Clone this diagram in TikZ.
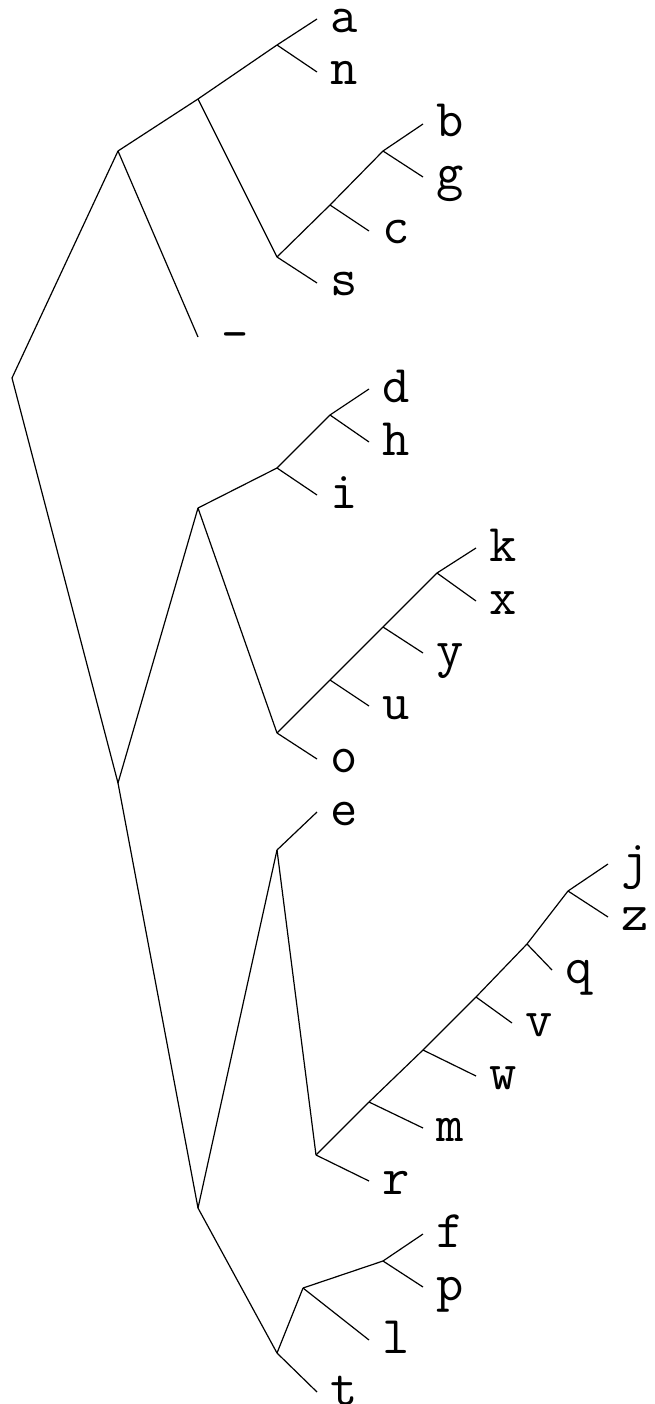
\documentclass[tikz,border=0pt]{standalone}
\usepackage{amsmath, amssymb}

\tikzset{
  leaflabel/.style={anchor=base west, inner sep=0pt, font=\fontsize{53}{60}\selectfont\ttfamily},
  edge/.style={line width=1.2pt}
}

\begin{document}
\begin{tikzpicture}[x=1pt,y=-1pt]
\useasboundingbox (0,0) rectangle (655,1404);
% Inner nodes of the code tree
\coordinate (rt) at (12,378);
\coordinate (n0) at (118,151);
\coordinate (n00) at (198,99);
\coordinate (n000) at (277,45);
\coordinate (n001) at (277,257);
\coordinate (n0010) at (330,205);
\coordinate (n00100) at (383,151);
\coordinate (n1) at (118,783);
\coordinate (n10) at (198,508);
\coordinate (n100) at (277,468);
\coordinate (n1000) at (330,415);
\coordinate (n101) at (277,733);
\coordinate (n1010) at (330,680);
\coordinate (n10100) at (383,627);
\coordinate (n101000) at (437,573);
\coordinate (n11) at (198,1208);
\coordinate (n110) at (277,850);
\coordinate (n1101) at (316,1155);
\coordinate (n11010) at (369,1102);
\coordinate (n110100) at (423,1050);
\coordinate (n1101000) at (476,997);
\coordinate (n11010000) at (527,944);
\coordinate (n110100000) at (568,891);
\coordinate (n111) at (277,1353);
\coordinate (n1110) at (303,1288);
\coordinate (n11100) at (383,1261);

% Leaves: end of the branch, then the letter
\coordinate (a-end) at (317,19);   \node[leaflabel] (a) at (330,33) {a};
\coordinate (n-end) at (317,72);   \node[leaflabel] (n) at (330,85) {n};
\coordinate (b-end) at (423,124);  \node[leaflabel] (b) at (436,137) {b};
\coordinate (g-end) at (423,177);  \node[leaflabel] (g) at (436,190) {g};
\coordinate (c-end) at (369,231);  \node[leaflabel] (c) at (382,244) {c};
\coordinate (s-end) at (317,283);  \node[leaflabel] (s) at (330,296) {s};
\coordinate (sp-end) at (198,337); \node[leaflabel, anchor=center] (sp) at (235,331) {\_};
\coordinate (d-end) at (369,389);  \node[leaflabel] (d) at (382,402) {d};
\coordinate (h-end) at (369,442);  \node[leaflabel] (h) at (382,455) {h};
\coordinate (i-end) at (317,495);  \node[leaflabel] (i) at (330,508) {i};
\coordinate (k-end) at (476,548);  \node[leaflabel] (k) at (489,561) {k};
\coordinate (x-end) at (476,601);  \node[leaflabel] (x) at (489,614) {x};
\coordinate (y-end) at (423,653);  \node[leaflabel] (y) at (436,666) {y};
\coordinate (u-end) at (369,706);  \node[leaflabel] (u) at (382,719) {u};
\coordinate (o-end) at (317,759);  \node[leaflabel] (o) at (330,772) {o};
\coordinate (e-end) at (317,812);  \node[leaflabel] (e) at (330,825) {e};
\coordinate (j-end) at (608,864);  \node[leaflabel] (j) at (621,877) {j};
\coordinate (z-end) at (608,917);  \node[leaflabel] (z) at (621,930) {z};
\coordinate (q-end) at (552,970);  \node[leaflabel] (q) at (565,983) {q};
\coordinate (v-end) at (512,1023); \node[leaflabel] (v) at (525,1036) {v};
\coordinate (w-end) at (476,1076); \node[leaflabel] (w) at (489,1089) {w};
\coordinate (m-end) at (423,1128); \node[leaflabel] (m) at (436,1141) {m};
\coordinate (r-end) at (369,1181); \node[leaflabel] (r) at (382,1194) {r};
\coordinate (f-end) at (423,1234); \node[leaflabel] (f) at (436,1247) {f};
\coordinate (p-end) at (423,1287); \node[leaflabel] (p) at (436,1300) {p};
\coordinate (l-end) at (369,1340); \node[leaflabel] (l) at (382,1353) {l};
\coordinate (t-end) at (317,1392); \node[leaflabel] (t) at (330,1405) {t};

% Branches
\draw[edge] (rt) -- (n0);
\draw[edge] (rt) -- (n1);
\draw[edge] (n0) -- (n00);
\draw[edge] (n0) -- (sp-end);
\draw[edge] (n00) -- (n000);
\draw[edge] (n00) -- (n001);
\draw[edge] (n000) -- (a-end);
\draw[edge] (n000) -- (n-end);
\draw[edge] (n001) -- (n0010);
\draw[edge] (n001) -- (s-end);
\draw[edge] (n0010) -- (n00100);
\draw[edge] (n0010) -- (c-end);
\draw[edge] (n00100) -- (b-end);
\draw[edge] (n00100) -- (g-end);
\draw[edge] (n1) -- (n10);
\draw[edge] (n1) -- (n11);
\draw[edge] (n10) -- (n100);
\draw[edge] (n10) -- (n101);
\draw[edge] (n100) -- (n1000);
\draw[edge] (n100) -- (i-end);
\draw[edge] (n1000) -- (d-end);
\draw[edge] (n1000) -- (h-end);
\draw[edge] (n101) -- (n1010);
\draw[edge] (n101) -- (o-end);
\draw[edge] (n1010) -- (n10100);
\draw[edge] (n1010) -- (u-end);
\draw[edge] (n10100) -- (n101000);
\draw[edge] (n10100) -- (y-end);
\draw[edge] (n101000) -- (k-end);
\draw[edge] (n101000) -- (x-end);
\draw[edge] (n11) -- (n110);
\draw[edge] (n11) -- (n111);
\draw[edge] (n110) -- (e-end);
\draw[edge] (n110) -- (n1101);
\draw[edge] (n1101) -- (n11010);
\draw[edge] (n1101) -- (r-end);
\draw[edge] (n11010) -- (n110100);
\draw[edge] (n11010) -- (m-end);
\draw[edge] (n110100) -- (n1101000);
\draw[edge] (n110100) -- (w-end);
\draw[edge] (n1101000) -- (n11010000);
\draw[edge] (n1101000) -- (v-end);
\draw[edge] (n11010000) -- (n110100000);
\draw[edge] (n11010000) -- (q-end);
\draw[edge] (n110100000) -- (j-end);
\draw[edge] (n110100000) -- (z-end);
\draw[edge] (n111) -- (n1110);
\draw[edge] (n111) -- (t-end);
\draw[edge] (n1110) -- (n11100);
\draw[edge] (n1110) -- (l-end);
\draw[edge] (n11100) -- (f-end);
\draw[edge] (n11100) -- (p-end);
\end{tikzpicture}
\end{document}
